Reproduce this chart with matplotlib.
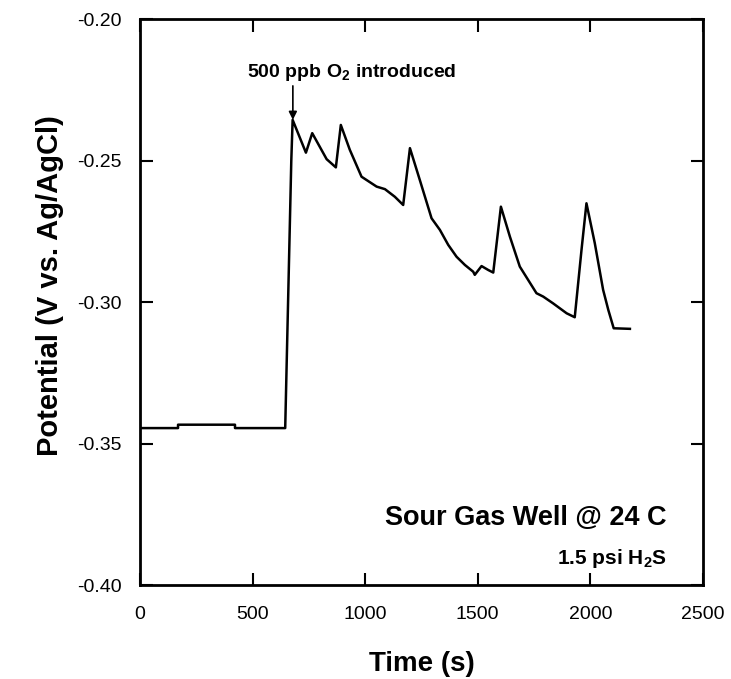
#Potencial de corrosion en pozo de gas amargo
import matplotlib
matplotlib.use('Agg')
from matplotlib import pyplot as plt

plt.rcParams['font.family'] = ['Liberation Sans', 'DejaVu Sans']
plt.rcParams['axes.unicode_minus'] = False
plt.rcParams['mathtext.fontset'] = 'custom'
plt.rcParams['mathtext.rm'] = 'Liberation Sans:bold'
plt.rcParams['mathtext.bf'] = 'Liberation Sans:bold'

#Datos
time = [0, 169, 169, 422, 422, 645, 672, 678, 737, 765, 829, 870, 892, 932,
        984, 1051, 1088, 1132, 1169, 1199, 1243, 1295, 1332, 1369, 1406,
        1443, 1480, 1487, 1517, 1547, 1569, 1603, 1643, 1665, 1687, 1761,
        1791, 1835, 1895, 1931, 1961, 1983, 2020, 2057, 2080, 2104, 2176]
potential = [-0.3445, -0.3445, -0.3433, -0.3433, -0.3445, -0.3445, -0.2500,
             -0.2355, -0.2471, -0.2402, -0.2494, -0.2523, -0.2373, -0.2461,
             -0.2556, -0.2591, -0.2600, -0.2627, -0.2656, -0.2455, -0.2568,
             -0.2703, -0.2744, -0.2797, -0.2839, -0.2868, -0.2892, -0.2903,
             -0.2872, -0.2886, -0.2895, -0.2662, -0.2768, -0.2821, -0.2874,
             -0.2968, -0.2980, -0.3004, -0.3039, -0.3053, -0.2815, -0.2650,
             -0.2791, -0.2956, -0.3027, -0.3092, -0.3094]

x_ticks = [0, 500, 1000, 1500, 2000, 2500]
y_ticks = [-0.40, -0.35, -0.30, -0.25, -0.20]
y_labels = ['-0.40', '-0.35', '-0.30', '-0.25', '-0.20']

fig = plt.figure(figsize=(7.31, 6.79), dpi=100)
ax = fig.add_axes([0.1915, 0.1384, 0.770, 0.8329])

#Graficar data
ax.plot(time, potential, c='black', lw=1.8)

#Anotaciones
ax.annotate('', xy=(679, -0.2365), xytext=(679, -0.2225),
            arrowprops=dict(arrowstyle='-|>', color='black', lw=1.2,
                            mutation_scale=12))
ax.text(475, -0.2186, '500 ppb O$_\\mathbf{2}$ introduced', fontsize=14,
        fontweight='bold', ha='left', va='center')
ax.text(2340, -0.3763, 'Sour Gas Well @ 24 C', fontsize=19.5,
        fontweight='bold', ha='right', va='center')
ax.text(2340, -0.3905, '1.5 psi H$_\\mathbf{2}$S', fontsize=15,
        fontweight='bold', ha='right', va='center')

#formato de la grafica
ax.set_xlim(0, 2500)
ax.set_ylim(-0.40, -0.20)
ax.set_xticks(x_ticks)
ax.set_yticks(y_ticks)
ax.set_yticklabels(y_labels)
ax.tick_params(direction='in', length=9, width=1.5, top=True, right=True,
               labelsize=14)
ax.tick_params(axis='x', pad=15)
ax.tick_params(axis='y', pad=13)
for s in ax.spines.values():
    s.set_linewidth(2)
ax.set_xlabel('Time (s)', fontsize=20, fontweight='bold', labelpad=20)
ax.set_ylabel('Potential (V vs. Ag/AgCl)', fontsize=21, fontweight='bold')
ax.yaxis.set_label_coords(-0.135, 0.53)

plt.savefig('out.png', dpi=100)
